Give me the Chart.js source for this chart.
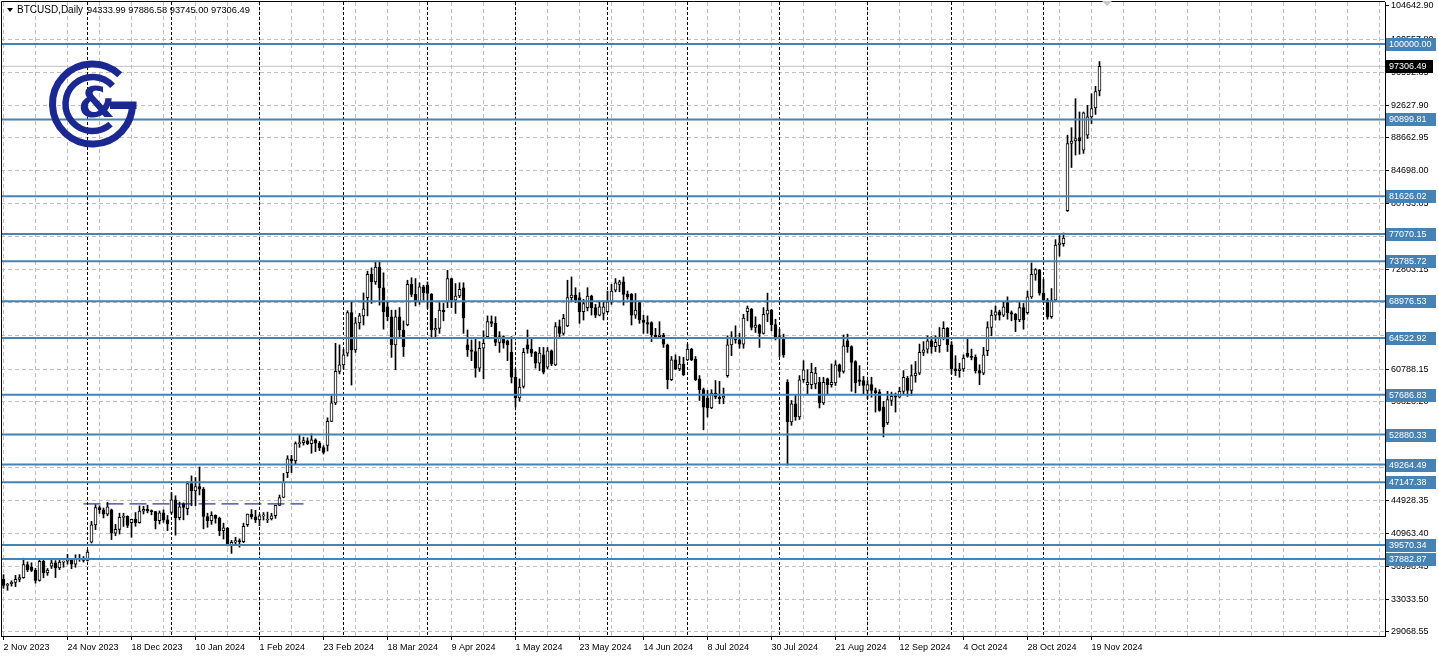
<!DOCTYPE html>
<html>
<head>
<meta charset="utf-8">
<title>BTCUSD,Daily</title>
<script src="https://cdn.jsdelivr.net/npm/chart.js@4.4.1/dist/chart.umd.min.js"></script>
<style>
  html, body { margin: 0; padding: 0; background: #fff; overflow: hidden; }
  canvas { display: block; }
</style>
</head>
<body>
<canvas id="chart" width="1438" height="659"></canvas>
<script>
// BTCUSD daily candles, weekdays only (broker closed on 1 Jan 2024)

const symbolName = 'BTCUSD,Daily';
const firstDay = '2023-11-02';
const lastDay = '2024-11-21';
const closedDays = ['2024-01-01'];

const opens = [
  // Nov 2023
  35420, 34700, 34900, 35050, 35420, 35630, 37200, 36900, 36500, 35300, 37600, 36200, 37000, 37400, 36800, 37500, 37600, 37700, 37250, 37850, 37800,
  // Dec 2023
  37700, 39900, 41990, 44080, 43800, 43290, 43800, 41000, 41450, 42890, 43020, 42250, 42650, 42270, 43650, 43870, 43600, 43580, 42500, 43440, 42600,
  // Jan 2024
  43500, 45000, 42850, 44500, 43950, 46980, 46100, 46600, 46300, 43000, 42510, 43140, 42780, 41290, 41580, 39570, 39900, 40090, 39960, 42030, 43300, 42950,
  // Feb
  42580, 43080, 42580, 42700, 43090, 44340, 45290, 48300, 49960, 49700, 51800, 51910, 52140, 51780, 52260, 51850, 51300, 51570, 54480, 56700, 60500,
  // Mar
  61300, 62700, 67600, 63100, 66350, 67200, 69400, 72200, 71300, 73100, 70600, 68300, 67100, 63700, 67100, 65500, 66100, 71000, 69800, 68900, 70700,
  // Apr
  70900, 69800, 65500, 65700, 67900, 68900, 71700, 69100, 69600, 70600, 63700, 63100, 62900, 60900, 63300, 64700, 66500, 66300, 64000, 64700, 64200, 62800,
  // May
  59800, 57300, 58700, 63700, 63200, 62800, 61500, 62500, 61000, 63000, 61300, 65900, 65100, 66000, 69400, 69700, 69400, 67700, 68200, 69600, 68200, 67300, 67500,
  // Jun
  67700, 68900, 70300, 71000, 71300, 69800, 69800, 67300, 68800, 66700, 66400, 66400, 64900, 64700, 64900, 63700, 59500, 61900, 60800, 61400,
  // Jul
  61900, 63200, 62000, 59600, 58300, 57300, 56100, 57900, 57400, 57300, 60000, 63700, 64650, 64300, 63800, 67700, 68000, 65800, 66100, 65100, 67400, 67900, 66150,
  // Aug
  64500, 64500, 59200, 54400, 56600, 55000, 59500, 58900, 58900, 59000, 59200, 56700, 59600, 58900, 59100, 61300, 60500, 64200, 63500, 61700, 59500, 59400,
  // Sep
  58200, 58900, 58200, 58000, 56200, 54300, 57000, 57500, 57400, 58100, 59700, 58200, 60000, 60300, 62800, 63200, 64200, 63500, 63600, 64500, 65700,
  // Oct
  63700, 60800, 60600, 60800, 62700, 62300, 62200, 60600, 60300, 63000, 65800, 67300, 67700, 67300, 68800, 67600, 67400, 66700, 68200, 67600, 69500, 72200, 72700,
  // Nov 2024
  69950, 69100, 67100, 69100, 75750, 75900, 79900, 88000, 88300, 88700, 87200, 89000, 91200, 92300, 94333.99,
];

const highs = [
  35980, 34950, 35250, 35900, 35980, 37970, 37530, 37420, 36760, 37960, 37930, 36730, 37750, 37680, 37860, 37630, 38430, 37800, 38380, 38420, 38170,
  38950, 42410, 44430, 44300, 44030, 44700, 43900, 42050, 43400, 43400, 43090, 42700, 43480, 44280, 44240, 44370, 43800, 43640, 43680, 43800, 43120,
  45900, 45500, 44750, 44650, 47200, 47900, 47700, 48970, 46500, 43400, 43570, 43200, 42930, 42200, 41690, 40130, 40500, 40300, 42200, 43300, 43840, 43750,
  43290, 43480, 43530, 43390, 44370, 45590, 48200, 50330, 50370, 52000, 52820, 52580, 52490, 52970, 52380, 52050, 51540, 54900, 57560, 63900, 63700,
  63150, 67830, 68900, 67000, 67500, 69970, 72600, 73000, 73650, 73800, 72400, 68900, 67900, 67900, 68200, 66600, 71500, 71800, 71700, 71200, 70900,
  71300, 69900, 66900, 68800, 68700, 72700, 71750, 71100, 71200, 71200, 65500, 64300, 64500, 64100, 65400, 67200, 67200, 67100, 65300, 64800, 64300, 64700,
  60800, 59600, 63300, 65500, 64400, 62900, 63400, 63400, 63400, 63100, 66400, 66700, 67400, 71500, 71900, 70600, 70000, 69200, 70600, 69700, 68600, 69000, 69000,
  70200, 71000, 71700, 71500, 71900, 70200, 69900, 69900, 68900, 67300, 67200, 66500, 65700, 66500, 65100, 63800, 62300, 62500, 62300, 62200,
  63800, 63300, 62300, 60000, 58500, 58200, 58300, 59400, 59300, 58500, 64800, 65300, 66000, 65100, 67400, 68400, 68100, 67100, 66200, 68200, 69950, 68000, 66800,
  65600, 65000, 59500, 57000, 57700, 60000, 61800, 60700, 61500, 61000, 59800, 59800, 59700, 61400, 61800, 61400, 64900, 65000, 63600, 61800, 61200, 59900,
  59400, 59800, 58500, 58300, 56900, 58100, 58000, 57900, 58600, 60600, 59900, 61300, 61700, 63800, 64100, 64800, 64700, 64800, 65800, 66500, 65800,
  64100, 62400, 61500, 62500, 64500, 63200, 62500, 61300, 63400, 66500, 67900, 68400, 67900, 68900, 69500, 67800, 67500, 68800, 68700, 70200, 73600, 72900, 72800,
  71600, 69300, 70500, 76400, 76900, 77200, 89000, 89900, 93400, 91800, 91800, 92600, 94000, 94900, 97886.58,
];

const lows = [
  34330, 34100, 34600, 34530, 35120, 35550, 36340, 36360, 34970, 35200, 35600, 35900, 36730, 35640, 36600, 36880, 37250, 36700, 36880, 37600, 37500,
  37630, 39800, 41420, 43370, 42820, 43080, 40220, 40680, 40880, 41800, 41660, 40500, 41820, 42200, 43300, 43440, 43200, 41500, 42100, 42300, 41300,
  43300, 40750, 42600, 42600, 43200, 44300, 44300, 45600, 41500, 41700, 42050, 42200, 40680, 40280, 39450, 38550, 39500, 39300, 39830, 41800, 42700, 42280,
  41880, 42570, 42260, 42580, 42780, 44330, 45250, 47700, 48300, 49250, 51340, 51600, 51670, 50630, 50820, 50940, 50540, 50900, 54450, 56500, 60200,
  60800, 62350, 58860, 62800, 65600, 66100, 67200, 68700, 71000, 68500, 65600, 66600, 62200, 60700, 64600, 62300, 66000, 69500, 68400, 68600, 69100,
  68100, 64500, 64500, 65100, 66600, 68200, 68200, 67500, 69400, 65100, 62300, 61800, 59800, 60500, 59600, 64500, 65900, 63600, 62800, 63300, 61800, 59100,
  56200, 56900, 58500, 62700, 62300, 60900, 60600, 60200, 60800, 61200, 61200, 64600, 64900, 65900, 69000, 68800, 66300, 66700, 67800, 67300, 67000, 67200, 66700,
  67600, 68600, 70100, 70100, 68500, 69200, 66100, 66900, 66300, 65100, 65100, 64100, 64600, 64500, 63400, 58400, 59400, 60700, 60600, 60000,
  61800, 61800, 59400, 57000, 53450, 55000, 56000, 57200, 56600, 56600, 59800, 62400, 63900, 63300, 63300, 66600, 65500, 65200, 63400, 65000, 66500, 65400, 64300,
  62300, 62200, 49200, 54000, 54600, 54700, 59200, 57700, 58400, 58400, 56100, 56500, 57800, 58600, 58800, 59800, 60300, 62800, 58100, 57900, 58800, 57800,
  57200, 57400, 55600, 55700, 52600, 54100, 56400, 55600, 57300, 57700, 57500, 57600, 59200, 60100, 62400, 62700, 62700, 62900, 62800, 64300, 62900,
  60200, 60000, 59800, 60500, 62200, 61900, 60300, 58900, 60100, 62400, 64800, 66700, 66700, 67100, 66800, 66600, 65300, 66500, 65600, 67400, 69300, 71500, 69700,
  68800, 66800, 66900, 68900, 74400, 75600, 79800, 85100, 86600, 86700, 86800, 88600, 90400, 91500, 93745.00,
];

const closes = [
  34700, 34730, 35050, 35420, 35630, 37200, 36600, 36500, 35300, 37600, 36200, 36550, 37400, 36800, 37500, 37600, 37700, 37250, 37850, 37800, 37700,
  38700, 41990, 44080, 43800, 43290, 44170, 41000, 41450, 42890, 43020, 41940, 42650, 42270, 43650, 43870, 43700, 43580, 42500, 43440, 42600, 42100,
  45000, 42850, 44180, 44100, 46980, 46100, 46600, 46300, 43000, 42500, 43140, 42780, 41290, 41620, 39570, 39900, 40090, 39960, 41820, 43300, 42950, 42580,
  43080, 43190, 42700, 43090, 44340, 45290, 47130, 49960, 49700, 51800, 51910, 52150, 51780, 52260, 51850, 51300, 50740, 54480, 56700, 60500, 61300,
  62500, 67600, 63100, 66350, 67200, 68050, 72200, 71300, 73100, 70600, 67700, 67100, 63700, 67100, 65500, 63500, 71000, 69800, 68900, 70700, 70000,
  69900, 65500, 65700, 67900, 67700, 71700, 69100, 69600, 70400, 66950, 63100, 62900, 60900, 63300, 63900, 66500, 66300, 64000, 64700, 63900, 63700, 59800,
  57300, 58600, 62800, 63200, 62700, 61500, 62700, 60400, 63000, 61400, 65900, 65100, 66900, 69400, 69700, 69100, 67700, 68700, 69600, 68200, 67300, 68300, 68300,
  68900, 70200, 71200, 71300, 69800, 69500, 67300, 67900, 66700, 66400, 66200, 64900, 64700, 64900, 63800, 59500, 61900, 60800, 61400, 60100,
  63200, 61900, 59500, 58300, 56200, 56100, 57900, 57400, 57200, 57500, 63700, 64650, 64300, 63800, 66950, 68150, 65800, 66100, 65100, 67400, 67900, 66150, 64500,
  64700, 62500, 54400, 56600, 55000, 59500, 60700, 59200, 60400, 60300, 56700, 59200, 58900, 59200, 61300, 60500, 63600, 63500, 61600, 59100, 59300, 58800,
  58900, 58200, 57900, 55800, 53800, 57100, 57500, 57400, 58100, 59800, 58200, 60000, 60300, 62800, 63100, 64200, 63500, 64000, 64500, 65700, 63700,
  60800, 60600, 60800, 62100, 62300, 62200, 60600, 60300, 62500, 65800, 67300, 67700, 67300, 68300, 67600, 67400, 66700, 68200, 66700, 69500, 72200, 72800, 69950,
  69100, 67100, 69100, 75750, 76000, 76600, 88000, 88300, 88600, 88300, 91700, 91200, 92200, 94250, 97306.49,
];

// horizontal support / resistance levels drawn on the chart
const levels = [100000.00, 90899.81, 81626.02, 77070.15, 73785.72, 68976.53, 64522.92,
  57686.83, 52880.33, 49264.49, 47147.38, 39570.34, 37882.87];

// navy dashed range line (start date, end date, price)
const rangeLineDates = ['2023-11-30', '2024-02-16'];
const rangeLinePrice = 44520;

// price axis labels as shown by the terminal
const priceTicks = [29068.55, 33033.50, 36998.45, 40963.40, 44928.35, 48893.30, 52858.25,
  56823.20, 60788.15, 64793.15, 68798.15, 72803.15, 76768.10, 80733.05, 84698.00,
  88662.95, 92627.90, 96592.85, 100557.80, 104642.90];

const MONTHS = ['Jan', 'Feb', 'Mar', 'Apr', 'May', 'Jun', 'Jul', 'Aug', 'Sep', 'Oct', 'Nov', 'Dec'];
const FONT = '"Liberation Sans", Arial, sans-serif';
const LEVEL_COLOR = '#4682b4';

// weekday calendar of the bars
function buildBarDates() {
  const out = [];
  const d = new Date(`${firstDay}T00:00:00Z`);
  const end = new Date(`${lastDay}T00:00:00Z`);
  while (d <= end) {
    const wd = d.getUTCDay();
    const iso = d.toISOString().slice(0, 10);
    if (wd !== 0 && wd !== 6 && !closedDays.includes(iso)) out.push(iso);
    d.setUTCDate(d.getUTCDate() + 1);
  }
  return out;
}
const barDates = buildBarDates();
if ([opens, highs, lows, closes].some((a) => a.length !== barDates.length)) {
  console.error('length mismatch', barDates.length, opens.length, highs.length, lows.length, closes.length);
}

function fmtDate(iso) {
  const [y, m, d] = iso.split('-').map(Number);
  return `${d} ${MONTHS[m - 1]} ${y}`;
}

// 4 px per bar, chart area 1..1385 px
const X_MIN = -0.625;
const X_MAX = 345.375;
const Y_MIN = 28586.0;
const Y_MAX = 105065.1;
const lastBar = barDates.length - 1;

const gridBars = [];
for (let v = 0; v <= X_MAX; v += 8) gridBars.push(v);

const monthStarts = barDates
  .map((iso, i) => (i > 0 && iso.slice(5, 7) !== barDates[i - 1].slice(5, 7) ? i : -1))
  .filter((i) => i > 0);

const wickData = barDates.map((_, i) => ({ x: i, y: [lows[i], highs[i]] }));
const bodyData = barDates.map((_, i) => ({ x: i, y: [opens[i], closes[i]] }));
const bodyColors = barDates.map((_, i) => (closes[i] >= opens[i] ? '#ffffff' : '#000000'));

const levelSets = levels.map((lv) => ({
  type: 'line',
  data: [{ x: X_MIN, y: lv }, { x: X_MAX, y: lv }],
  borderColor: LEVEL_COLOR,
  borderWidth: 2,
  pointRadius: 0,
  order: -1,
}));

const rangeStart = barDates.indexOf(rangeLineDates[0]);
const rangeEnd = barDates.indexOf(rangeLineDates[1]);

const mtDecor = {
  id: 'mtDecor',
  beforeDraw(chart) {
    const { ctx } = chart;
    ctx.save();
    ctx.fillStyle = '#fff';
    ctx.fillRect(0, 0, chart.width, chart.height);
    ctx.restore();
  },
  beforeDatasetsDraw(chart) {
    const { ctx, chartArea, scales } = chart;
    ctx.save();
    ctx.strokeStyle = '#000';
    ctx.lineWidth = 1;
    ctx.setLineDash([3, 2]);
    monthStarts.forEach((i) => {
      const x = Math.round(scales.x.getPixelForValue(i) - 0.5) + 0.5;
      ctx.beginPath();
      ctx.moveTo(x, chartArea.top);
      ctx.lineTo(x, chartArea.bottom);
      ctx.stroke();
    });
    ctx.restore();
  },
  afterDraw(chart) {
    const { ctx, chartArea, scales } = chart;
    const yS = scales.y;
    ctx.save();

    // frame
    ctx.strokeStyle = '#000';
    ctx.lineWidth = 1;
    ctx.beginPath();
    ctx.moveTo(1.5, chartArea.bottom);
    ctx.lineTo(1.5, 1.5);
    ctx.lineTo(chartArea.right, 1.5);
    ctx.stroke();

    // chart shift marker
    ctx.fillStyle = '#c8c8c8';
    ctx.beginPath();
    ctx.moveTo(1102, 1);
    ctx.lineTo(1112, 1);
    ctx.lineTo(1107, 6);
    ctx.closePath();
    ctx.fill();

    // header
    ctx.fillStyle = '#000';
    ctx.beginPath();
    ctx.moveTo(7, 8);
    ctx.lineTo(13, 8);
    ctx.lineTo(10, 12);
    ctx.closePath();
    ctx.fill();
    ctx.textBaseline = 'middle';
    ctx.textAlign = 'left';
    ctx.font = `10px ${FONT}`;
    ctx.fillText(symbolName, 17, 10.5);
    ctx.font = `9.3px ${FONT}`;
    const ohlc = [opens[lastBar], highs[lastBar], lows[lastBar], closes[lastBar]]
      .map((v) => v.toFixed(2)).join(' ');
    ctx.fillText(ohlc, 87, 10.5);

    // level labels on the price scale
    ctx.font = `9px ${FONT}`;
    levels.forEach((lv) => {
      const y = yS.getPixelForValue(lv);
      ctx.fillStyle = LEVEL_COLOR;
      ctx.fillRect(chartArea.right + 1, Math.round(y) - 6, 50, 13);
      ctx.fillStyle = '#fff';
      ctx.fillText(lv.toFixed(2), chartArea.right + 4, Math.round(y) + 0.5);
    });

    // last price label
    const lp = closes[lastBar];
    const ly = yS.getPixelForValue(lp);
    ctx.fillStyle = '#000';
    ctx.fillRect(chartArea.right + 1, Math.round(ly) - 6, 47, 13);
    ctx.fillStyle = '#fff';
    ctx.fillText(lp.toFixed(2), chartArea.right + 4, Math.round(ly) + 0.5);

    // logo
    const cx = 92.5;
    const cy = 104;
    ctx.strokeStyle = '#1c2891';
    ctx.fillStyle = '#1c2891';
    ctx.lineWidth = 7;
    ctx.beginPath();
    ctx.arc(cx, cy, 40, (-47 * Math.PI) / 180, 0, true);
    ctx.stroke();
    ctx.fillRect(110, cy - 2.5, 26.5, 7.5);
    ctx.lineWidth = 6.5;
    ctx.beginPath();
    ctx.arc(cx, cy, 27, (-42 * Math.PI) / 180, (48 * Math.PI) / 180, true);
    ctx.stroke();
    ctx.font = 'bold 42px "DejaVu Sans", sans-serif';
    ctx.textAlign = 'center';
    ctx.fillText('&', cx + 4, cy + 2);

    ctx.restore();
  },
};

const tickFont = { family: FONT, size: 9 };

const chart = new Chart(document.getElementById('chart').getContext('2d'), {
  type: 'bar',
  data: {
    datasets: [
      {
        label: 'body',
        data: bodyData,
        backgroundColor: bodyColors,
        borderColor: '#000',
        borderWidth: 1,
        borderSkipped: false,
        barThickness: 3,
        minBarLength: 1,
        grouped: false,
        order: 0,
      },
      {
        label: 'wick',
        data: wickData,
        backgroundColor: '#000',
        borderWidth: 0,
        barThickness: 1,
        grouped: false,
        order: 1,
      },
      ...levelSets,
      {
        type: 'line',
        data: [{ x: rangeStart, y: rangeLinePrice }, { x: rangeEnd, y: rangeLinePrice }],
        borderColor: '#000080',
        borderWidth: 1,
        borderDash: [17, 6],
        pointRadius: 0,
        order: -1,
      },
      {
        type: 'line',
        data: [{ x: X_MIN, y: closes[lastBar] }, { x: X_MAX, y: closes[lastBar] }],
        borderColor: '#c0c0c0',
        borderWidth: 1,
        pointRadius: 0,
        order: 3,
      },
    ],
  },
  options: {
    responsive: false,
    animation: false,
    events: [],
    layout: { padding: { left: 1, top: 2, right: 0, bottom: 0 } },
    plugins: {
      legend: { display: false },
      tooltip: { enabled: false },
    },
    scales: {
      x: {
        type: 'linear',
        min: X_MIN,
        max: X_MAX,
        offset: false,
        afterBuildTicks(scale) {
          scale.ticks = gridBars.map((v) => ({ value: v }));
        },
        afterFit(scale) {
          scale.height = 23;
          scale.paddingLeft = 0;
          scale.paddingRight = 0;
        },
        ticks: {
          autoSkip: false,
          maxRotation: 0,
          minRotation: 0,
          align: 'start',
          padding: 2,
          color: '#000',
          font: tickFont,
          callback: (v) => (v % 16 === 0 && v <= lastBar ? fmtDate(barDates[v]) : ''),
        },
        grid: {
          offset: false,
          color: '#c0c0c0',
          tickColor: (c) => (c.tick && c.tick.value % 16 === 0 && c.tick.value <= lastBar ? '#000' : 'rgba(0,0,0,0)'),
          tickLength: 4,
        },
        border: { color: '#000', dash: [4, 3] },
      },
      y: {
        position: 'right',
        min: Y_MIN,
        max: Y_MAX,
        afterBuildTicks(scale) {
          scale.ticks = priceTicks.map((v) => ({ value: v }));
        },
        afterFit(scale) {
          scale.width = 53;
          scale.paddingTop = 0;
          scale.paddingBottom = 0;
        },
        ticks: {
          autoSkip: false,
          padding: 2,
          color: '#000',
          font: tickFont,
          callback: (v) => Number(v).toFixed(2),
        },
        grid: {
          color: (c) => (c.tick && c.tick.value === priceTicks[priceTicks.length - 1] ? 'rgba(0,0,0,0)' : '#c0c0c0'),
          tickColor: '#000',
          tickLength: 4,
        },
        border: { color: '#000', dash: [4, 3] },
      },
    },
  },
  plugins: [mtDecor],
});
</script>
</body>
</html>
